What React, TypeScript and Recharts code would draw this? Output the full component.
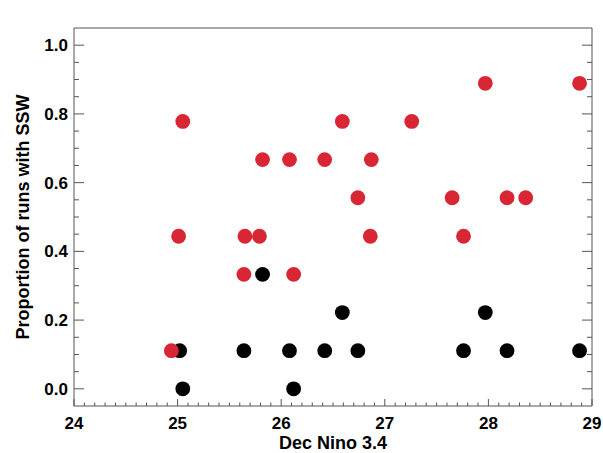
import React from "react";
import { ScatterChart, Scatter, XAxis, YAxis } from "recharts";

// Dec Nino 3.4 values and proportion of runs with SSW
const blackNino = [25.02, 25.05, 25.64, 25.82, 26.08, 26.12, 26.42, 26.59, 26.74, 27.76, 27.97, 28.18, 28.88];
const blackProp = [0.111, 0.0, 0.111, 0.333, 0.111, 0.0, 0.111, 0.222, 0.111, 0.111, 0.222, 0.111, 0.111];

const redNino = [24.94, 25.01, 25.05, 25.64, 25.65, 25.79, 25.82, 26.08, 26.12, 26.42, 26.59, 26.74, 26.86, 26.87, 27.26, 27.65, 27.76, 27.97, 28.18, 28.36, 28.88];
const redProp = [0.111, 0.444, 0.778, 0.333, 0.444, 0.444, 0.667, 0.667, 0.333, 0.667, 0.778, 0.556, 0.444, 0.667, 0.778, 0.556, 0.444, 0.889, 0.556, 0.556, 0.889];

const xMajorTicks = [24, 25, 26, 27, 28, 29];
const yMajorTicks = [0.0, 0.2, 0.4, 0.6, 0.8, 1.0];
const xMinorStep = 0.1;
const yMinorStep = 0.05;

const xTicks = Array.from({ length: Math.round((29 - 24) / xMinorStep) + 1 }, (_, i) => +(24 + i * xMinorStep).toFixed(2));
const yTicks = Array.from({ length: Math.round(1.0 / yMinorStep) + 1 }, (_, i) => +(i * yMinorStep).toFixed(2));

const blackData = blackNino.map((x, i) => ({ x, y: blackProp[i] }));
const redData = redNino.map((x, i) => ({ x, y: redProp[i] }));

const FONT = "'Liberation Sans', Arial, Helvetica, sans-serif";
const AXIS = "#555";
const RED = "#d92634";

const isMajorX = (v: number) => xMajorTicks.some((m) => Math.abs(m - v) < 1e-6);
const isMajorY = (v: number) => yMajorTicks.some((m) => Math.abs(m - v) < 1e-6);

const BottomTick = (props: any) => {
  const { x, y, payload } = props;
  const major = isMajorX(payload.value);
  return (
    <g>
      <line x1={x} x2={x} y1={y} y2={y - (major ? 7 : 3.5)} stroke={AXIS} strokeWidth={1} />
      {major && (
        <text x={x} y={y + 23} textAnchor="middle" fontFamily={FONT} fontWeight="bold" fontSize={17} fill="#000">
          {String(payload.value)}
        </text>
      )}
    </g>
  );
};

const TopTick = (props: any) => {
  const { x, y, payload } = props;
  const major = isMajorX(payload.value);
  return <line x1={x} x2={x} y1={y} y2={y + (major ? 7 : 3.5)} stroke={AXIS} strokeWidth={1} />;
};

const LeftTick = (props: any) => {
  const { x, y, payload } = props;
  const major = isMajorY(payload.value);
  return (
    <g>
      <line x1={x} x2={x + (major ? 10 : 5)} y1={y} y2={y} stroke={AXIS} strokeWidth={1} />
      {major && (
        <text x={x - 6} y={y + 6} textAnchor="end" fontFamily={FONT} fontWeight="bold" fontSize={17} fill="#000">
          {Number(payload.value).toFixed(1)}
        </text>
      )}
    </g>
  );
};

const RightTick = (props: any) => {
  const { x, y, payload } = props;
  const major = isMajorY(payload.value);
  return <line x1={x} x2={x - (major ? 10 : 5)} y1={y} y2={y} stroke={AXIS} strokeWidth={1} />;
};

const Dot = (color: string) => (p: any) => <circle cx={p.cx} cy={p.cy} r={7.4} fill={color} />;

export default function App() {
  return (
    <div style={{ position: "absolute", left: 0, top: 0, background: "#fff" }}>
      <ScatterChart width={603} height={453} margin={{ top: 0, right: 0, bottom: 0, left: 0 }}>
        <XAxis
          xAxisId="b"
          type="number"
          dataKey="x"
          domain={[24, 29]}
          ticks={xTicks}
          interval={0}
          tick={<BottomTick />}
          tickLine={false}
          tickSize={0}
          tickMargin={0}
          height={47}
          axisLine={{ stroke: AXIS }}
          allowDataOverflow
          label={(lp: any) => {
            const vb = lp.viewBox;
            return (
              <text x={vb.x + vb.width / 2} y={vb.y + 43} textAnchor="middle" fontFamily={FONT} fontWeight="bold" fontSize={18} fill="#000">
                Dec Nino 3.4
              </text>
            );
          }}
        />
        <XAxis
          xAxisId="t"
          orientation="top"
          type="number"
          domain={[24, 29]}
          ticks={xTicks}
          interval={0}
          tick={<TopTick />}
          tickLine={false}
          tickSize={0}
          tickMargin={0}
          height={28}
          axisLine={{ stroke: AXIS }}
          allowDataOverflow
        />
        <YAxis
          yAxisId="l"
          type="number"
          dataKey="y"
          domain={[-0.05, 1.05]}
          ticks={yTicks}
          interval={0}
          tick={<LeftTick />}
          tickLine={false}
          tickSize={0}
          tickMargin={0}
          width={74}
          axisLine={{ stroke: AXIS }}
          allowDataOverflow
          label={(lp: any) => {
            const vb = lp.viewBox;
            const cx = vb.x + 29;
            const cy = vb.y + vb.height / 2;
            return (
              <text x={cx} y={cy} transform={`rotate(-90, ${cx}, ${cy})`} textAnchor="middle" fontFamily={FONT} fontWeight="bold" fontSize={18} fill="#000">
                Proportion of runs with SSW
              </text>
            );
          }}
        />
        <YAxis
          yAxisId="r"
          orientation="right"
          type="number"
          domain={[-0.05, 1.05]}
          ticks={yTicks}
          interval={0}
          tick={<RightTick />}
          tickLine={false}
          tickSize={0}
          tickMargin={0}
          width={11}
          axisLine={{ stroke: AXIS }}
          allowDataOverflow
        />
        <Scatter data={blackData} xAxisId="b" yAxisId="l" fill="#000" shape={Dot("#000")} isAnimationActive={false} />
        <Scatter data={redData} xAxisId="b" yAxisId="l" fill={RED} shape={Dot(RED)} isAnimationActive={false} />
      </ScatterChart>
    </div>
  );
}
